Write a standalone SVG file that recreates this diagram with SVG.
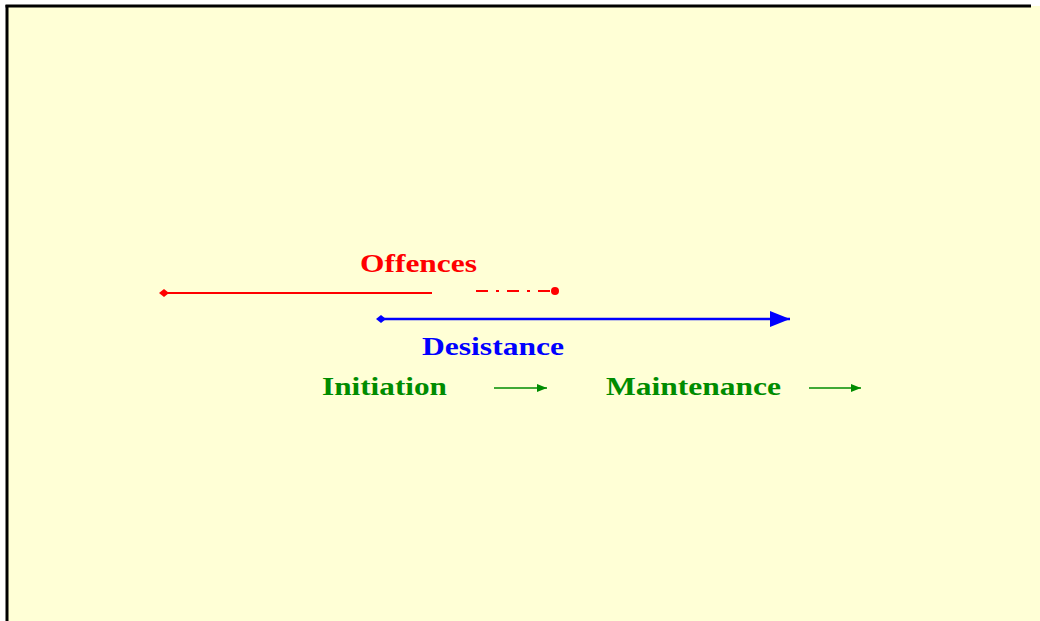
<svg xmlns="http://www.w3.org/2000/svg" width="1040" height="621" viewBox="0 0 1040 621">
<style>
.t{font-family:"Liberation Serif","Times New Roman",serif;font-weight:bold;font-size:26px}
</style>
<defs>
<marker id="diaR" markerWidth="10" markerHeight="10" refX="5" refY="5" markerUnits="userSpaceOnUse"><path d="M0,5 L5,1 L10,5 L5,9 Z" fill="#ff0000"/></marker>
<marker id="dotR" markerWidth="10" markerHeight="10" refX="5" refY="5" markerUnits="userSpaceOnUse"><circle cx="5" cy="5" r="4" fill="#ff0000"/></marker>
<marker id="diaB" markerWidth="12" markerHeight="10" refX="5" refY="5" markerUnits="userSpaceOnUse"><path d="M0,5 L5,1 L10,5 L5,9 Z" fill="#0000ff"/></marker>
<marker id="arrB" markerWidth="22" markerHeight="16" refX="20" refY="8" markerUnits="userSpaceOnUse"><path d="M0,0 L20,8 L0,16 Z" fill="#0000ff"/></marker>
<marker id="arrG" markerWidth="10" markerHeight="8" refX="10" refY="4" markerUnits="userSpaceOnUse"><path d="M0,0 L10,4 L0,8 Z" fill="#008c00"/></marker>
</defs>
<rect x="0" y="0" width="1040" height="621" fill="#ffffff"/>
<rect x="7" y="6" width="1033" height="615" fill="#ffffd6"/>
<line x1="5.5" y1="6" x2="1031" y2="6" stroke="#000" stroke-width="3"/>
<line x1="7" y1="5" x2="7" y2="621" stroke="#000" stroke-width="3"/>
<g id="connectors">
<line x1="164" y1="293" x2="432" y2="293" stroke="#ff0000" stroke-width="2" marker-start="url(#diaR)"/>
<line x1="476" y1="291" x2="555" y2="291" stroke="#ff0000" stroke-width="2" stroke-dasharray="12,8,3,8" marker-end="url(#dotR)"/>
<line x1="381" y1="319" x2="790" y2="319" stroke="#0000ff" stroke-width="2.5" marker-start="url(#diaB)" marker-end="url(#arrB)"/>
<line x1="494" y1="388" x2="547" y2="388" stroke="#008c00" stroke-width="1.5" marker-end="url(#arrG)"/>
<line x1="809" y1="388" x2="861" y2="388" stroke="#008c00" stroke-width="1.5" marker-end="url(#arrG)"/>
</g>
<g id="offences"><text class="t" x="360" y="272" fill="#ff0000" textLength="117" lengthAdjust="spacingAndGlyphs">Offences</text></g>
<g id="desistance"><text class="t" x="422" y="355" fill="#0000ff" textLength="142" lengthAdjust="spacingAndGlyphs">Desistance</text></g>
<g id="initiation"><text class="t" x="322" y="395" fill="#008c00" textLength="125" lengthAdjust="spacingAndGlyphs">Initiation</text></g>
<g id="maintenance"><text class="t" x="606" y="395" fill="#008c00" textLength="175" lengthAdjust="spacingAndGlyphs">Maintenance</text></g>
</svg>
